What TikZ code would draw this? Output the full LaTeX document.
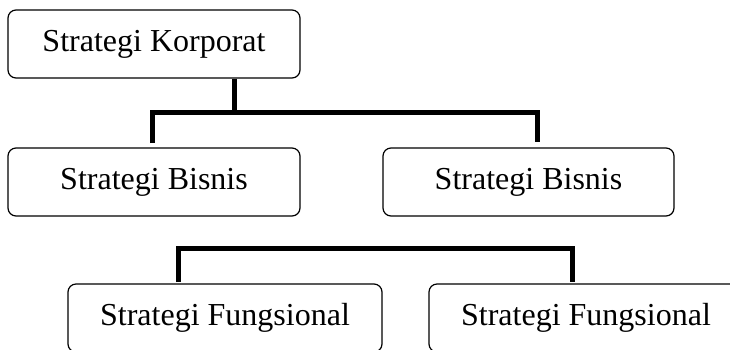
\documentclass[tikz,border=0pt]{standalone}
\usepackage{fontspec}
\setmainfont{Liberation Serif}
\begin{document}
\begin{tikzpicture}[x=1pt,y=-1pt,
  box/.style={draw,line width=1.2pt,rounded corners=8pt,inner sep=0pt,
    minimum height=68pt,font=\fontsize{32}{38}\selectfont},
  conn/.style={line width=5pt,line join=miter}]
\useasboundingbox (0,0) rectangle (730,349);
\clip (0,0) rectangle (730,349);

% boxes
\node[box,minimum width=292pt] (korp) at (154,44) {Strategi Korporat};
\node[box,minimum width=292pt] (bis1) at (154,182) {Strategi Bisnis};
\node[box,minimum width=291pt] (bis2) at (528.5,182) {Strategi Bisnis};
\node[box,minimum width=314pt] (fun1) at (225,318) {Strategi Fungsional};
\node[box,minimum width=314pt] (fun2) at (586,318) {Strategi Fungsional};

% junction points of the upper bracket
\coordinate (j1) at (234,112);
\coordinate (d1) at (152,143);
\coordinate (d2) at (537,112);
\coordinate (e2) at (537,142);
\draw[conn] (korp.south -| j1) -- (j1);
\draw[conn] (d1) |- (d2) -- (e2);

% lower bracket
\coordinate (f1) at (178,282);
\coordinate (f2) at (572,248);
\coordinate (g2) at (572,282);
\draw[conn] (f1) |- (f2) -- (g2);
\end{tikzpicture}
\end{document}
